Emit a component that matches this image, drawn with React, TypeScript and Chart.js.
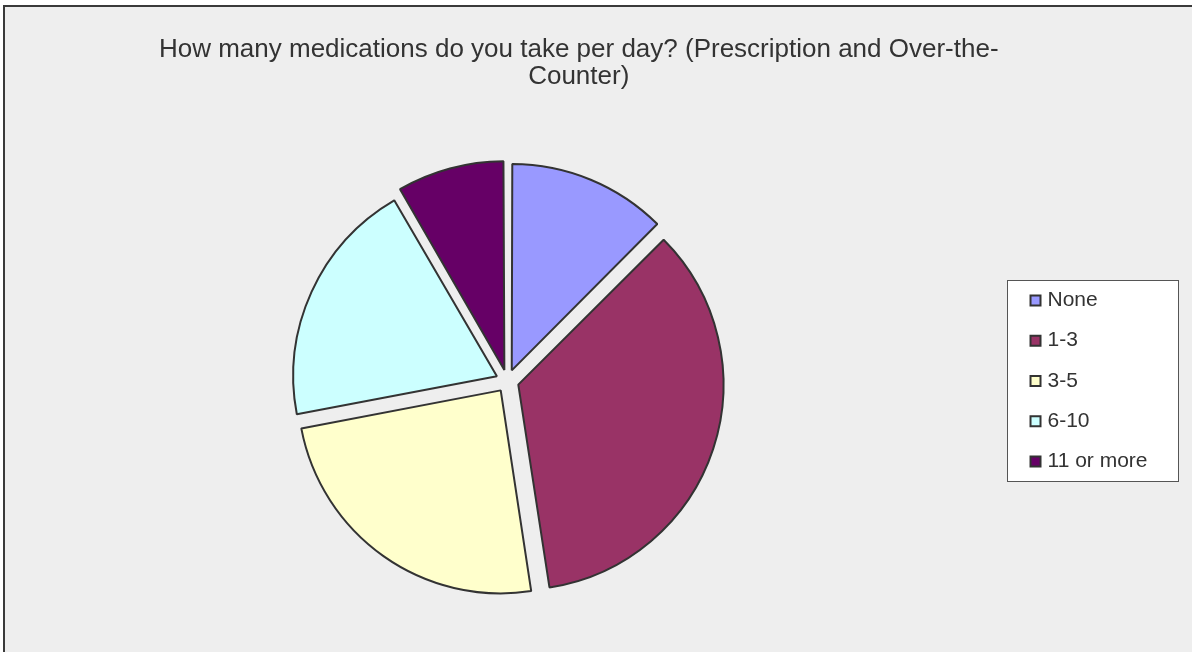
import React, { useEffect, useRef } from "react";
import { Chart, registerables } from "chart.js";

Chart.register(...registerables);

const TITLE_LINES = [
  "How many medications do you take per day? (Prescription and Over-the-",
  "Counter)",
];
const CATEGORIES = ["None", "1-3", "3-5", "6-10", "11 or more"];
const PERCENTS = [12.5, 35.1, 24.4, 19.6, 8.4];
const COLORS = ["#9999FF", "#993366", "#FFFFCC", "#CCFFFF", "#660066"];

const FONT = "'Liberation Sans', Arial, Helvetica, sans-serif";
const LEGEND_PAD = 19.3;
const LEGEND_FONT = 21;

const framePlugin = {
  id: "frame",
  beforeDraw(chart: any) {
    const { ctx, width, height } = chart;
    ctx.save();
    ctx.fillStyle = "#ffffff";
    ctx.fillRect(0, 0, width, height);
    ctx.fillStyle = "#eeeeee";
    ctx.fillRect(4, 6, width - 4, height - 6);
    ctx.strokeStyle = "#3a3a3a";
    ctx.lineWidth = 2;
    ctx.beginPath();
    ctx.moveTo(4, height);
    ctx.lineTo(4, 6);
    ctx.lineTo(width, 6);
    ctx.stroke();
    // legend box
    const lg = chart.legend;
    if (lg) {
      const n = CATEGORIES.length;
      const colH = n * (LEGEND_FONT + LEGEND_PAD);
      const y0 = (lg.top + LEGEND_PAD + lg.bottom - colH) / 2;
      const bx = Math.round(lg.left - 8) + 0.5;
      const by = Math.round(y0 - 10) + 0.5;
      ctx.fillStyle = "#ffffff";
      ctx.fillRect(bx, by, 171, 201);
      ctx.strokeStyle = "#555555";
      ctx.lineWidth = 1;
      ctx.strokeRect(bx, by, 171, 201);
    }
    ctx.restore();
  },
};

export default function App() {
  const ref = useRef<HTMLCanvasElement | null>(null);
  useEffect(() => {
    if (!ref.current) return;
    const chart = new Chart(ref.current, {
      type: "pie",
      data: {
        labels: CATEGORIES,
        datasets: [
          {
            data: PERCENTS,
            backgroundColor: COLORS,
            borderColor: "#333333",
            borderWidth: 2,
            offset: 46,
            hoverOffset: 46,
          },
        ],
      },
      options: {
        responsive: false,
        animation: false,
        layout: { padding: { left: 0, right: 34.5, top: 0, bottom: 44 } },
        plugins: {
          title: {
            display: true,
            text: TITLE_LINES,
            color: "#333333",
            font: { family: FONT, size: 26, weight: "normal", lineHeight: 27 / 26 },
            padding: { top: 36, bottom: 64 },
          },
          legend: {
            display: true,
            position: "right",
            fullSize: false,
            labels: {
              color: "#333333",
              font: { family: FONT, size: LEGEND_FONT },
              usePointStyle: true,
              pointStyle: "rect",
              boxWidth: 3,
              boxHeight: 10,
              padding: LEGEND_PAD,
            },
          },
          tooltip: { enabled: false },
        },
      },
      plugins: [framePlugin],
    });
    return () => chart.destroy();
  }, []);
  return (
    <div style={{ position: "absolute", left: 0, top: 0, width: 1192, height: 652 }}>
      <canvas ref={ref} width={1192} height={652} style={{ display: "block" }} />
    </div>
  );
}
